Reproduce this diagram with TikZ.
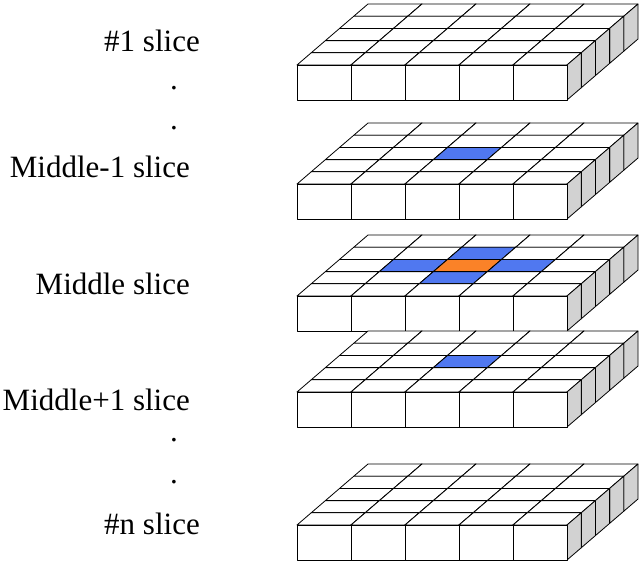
\documentclass[tikz,border=0pt]{standalone}
\usepackage{fontspec}
\setmainfont{Liberation Serif}
\begin{document}
\begin{tikzpicture}[x=1pt,y=-1pt,line join=round,
 lab/.style={anchor=east,font=\fontsize{31}{33}\selectfont,inner sep=0pt},
 face/.style={draw=black,line width=0.8pt}]
\definecolor{bl}{RGB}{80,120,240}
\definecolor{orn}{RGB}{250,130,40}
\useasboundingbox (0,0) rectangle (640,562);
\newcommand\mycube[3]{%
 \fill[face,fill=#3] (#1,#2-35) -- ++(14.2,-12.2) -- ++(54,0) -- ++(-14.2,12.2) -- cycle;
 \fill[face,fill=gray!35] (#1+54,#2) -- ++(14.2,-12.2) -- ++(0,-35) -- ++(-14.2,12.2) -- cycle;
 \fill[face,fill=white] (#1,#2) rectangle ++(54,-35);}
\newcommand\slice[2]{%
 \foreach \r in {0,...,4}{
  \foreach \c in {0,...,4}{
   \pgfmathsetmacro\xx{297+\c*54+(4-\r)*14.2}
   \pgfmathsetmacro\yy{#1-(4-\r)*12.2}
   \def\col{white}
   \ifnum#2=1 \ifnum\r=2 \ifnum\c=2 \def\col{bl}\fi\fi\fi
   \ifnum#2=2
     \ifnum\r=2 \ifnum\c=2 \def\col{orn}\else\ifnum\c>0 \ifnum\c<4 \def\col{bl}\fi\fi\fi\fi
     \ifnum\c=2 \ifnum\r=1 \def\col{bl}\fi\ifnum\r=3 \def\col{bl}\fi\fi
   \fi
   \mycube{\xx}{\yy}{\col}
 }}}
\slice{100}{0}
\slice{219}{1}
\slice{331}{2}
\slice{427}{1}
\slice{560}{0}
\node[lab] (s1) at (200,41) {\#1 slice};
\node[lab] (d1) at (178,88) {.};
\node[lab] (d2) at (178,128) {.};
\node[lab] (sm1) at (190,167) {Middle-1 slice};
\node[lab] (sm) at (190,284) {Middle slice};
\node[lab] (sp1) at (190,400) {Middle+1 slice};
\node[lab] (d3) at (178,440) {.};
\node[lab] (d4) at (178,482) {.};
\node[lab] (sn) at (200,524) {\#n slice};
\end{tikzpicture}
\end{document}
